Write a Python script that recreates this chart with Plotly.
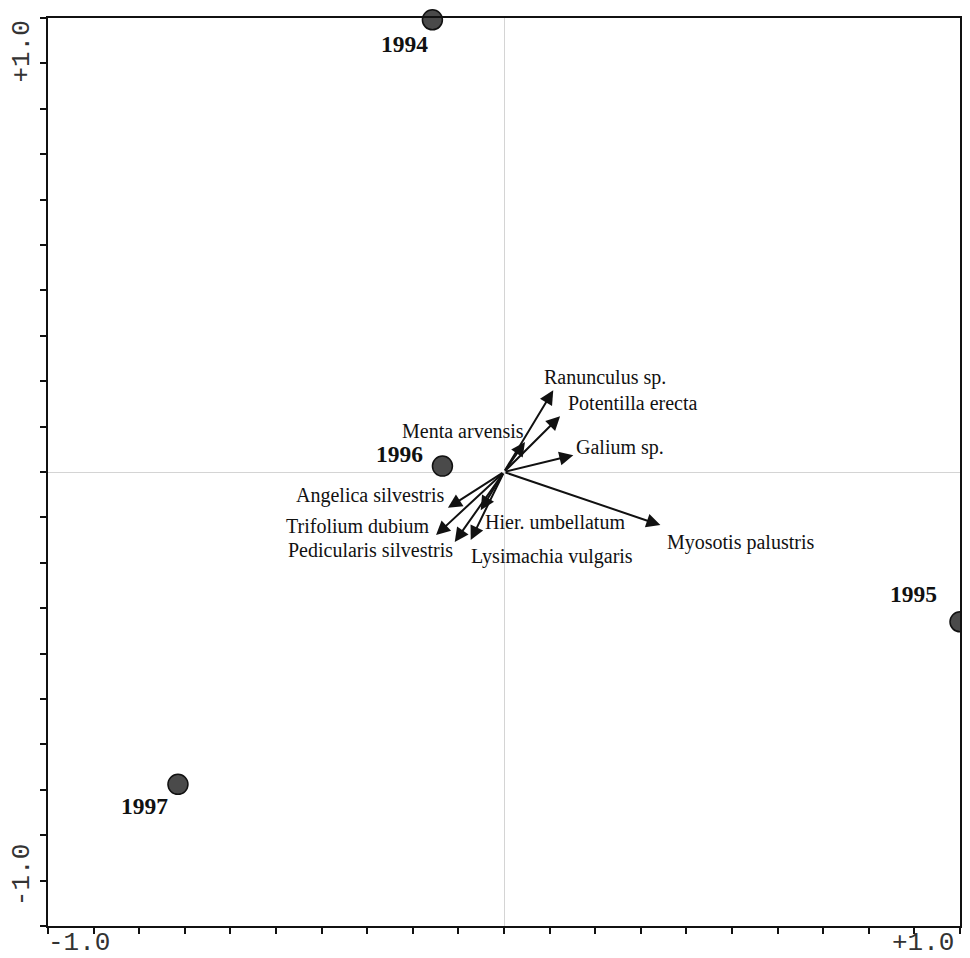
import plotly.graph_objects as go

# Sample (year) scores
years = ["1994", "1995", "1996", "1997"]
year_x = [-0.157, 1.0, -0.135, -0.715]
year_y = [0.996, -0.330, 0.013, -0.688]
year_label_x = [-0.218, 0.899, -0.229, -0.788]
year_label_y = [0.943, -0.268, 0.040, -0.736]

# Species arrows
species = ["Ranunculus sp.", "Potentilla erecta", "Menta arvensis", "Galium sp.",
           "Myosotis palustris", "Angelica silvestris", "Trifolium dubium",
           "Pedicularis silvestris", "Lysimachia vulgaris", "Hier. umbellatum"]
sp_x = [0.108, 0.123, 0.046, 0.152, 0.343, -0.123, -0.149, -0.108, -0.073, -0.051]
sp_y = [0.180, 0.123, 0.066, 0.037, -0.117, -0.079, -0.139, -0.154, -0.150, -0.084]
sp_label_x = [0.084, 0.135, 0.049, 0.154, 0.352, -0.126, -0.159, -0.108, -0.076, -0.045]
sp_label_y = [0.209, 0.152, 0.090, 0.053, -0.156, -0.051, -0.119, -0.171, -0.187, -0.110]
sp_anchor = ["left", "left", "right", "left", "left", "right", "right", "right", "left", "left"]

tick_labels = ["-1.0", "+1.0"]

fig = go.Figure()

fig.add_trace(go.Scatter(
    x=year_x, y=year_y, mode="markers",
    marker=dict(size=20, color="#4a4a4a", line=dict(color="#111", width=1.5)),
    cliponaxis=False, showlegend=False, hoverinfo="skip"))

annotations = []
for name, x, y in zip(species, sp_x, sp_y):
    annotations.append(dict(x=x, y=y, ax=0, ay=0, xref="x", yref="y", axref="x", ayref="y",
                            showarrow=True, arrowhead=2, arrowsize=1.4, arrowwidth=2,
                            arrowcolor="#111", text=""))
for name, x, y, anc in zip(species, sp_label_x, sp_label_y, sp_anchor):
    annotations.append(dict(x=x, y=y, xref="x", yref="y", text=name, showarrow=False,
                            xanchor=anc, yanchor="middle",
                            font=dict(family="Liberation Serif", size=20, color="#111")))
for name, x, y in zip(years, year_label_x, year_label_y):
    annotations.append(dict(x=x, y=y, xref="x", yref="y", text="<b>" + name + "</b>",
                            showarrow=False, xanchor="center", yanchor="middle",
                            font=dict(family="Liberation Serif", size=23.5, color="#111")))

mono = dict(family="Liberation Mono", size=26, color="#333")
annotations += [
    dict(x=-0.0285, y=0.963, xref="paper", yref="paper", text=tick_labels[1], textangle=-90,
         showarrow=False, font=mono, xanchor="center", yanchor="middle"),
    dict(x=-0.0285, y=0.056, xref="paper", yref="paper", text=tick_labels[0], textangle=-90,
         showarrow=False, font=mono, xanchor="center", yanchor="middle"),
    dict(x=0.034, y=-0.019, xref="paper", yref="paper", text=tick_labels[0],
         showarrow=False, font=mono, xanchor="center", yanchor="middle"),
    dict(x=0.959, y=-0.019, xref="paper", yref="paper", text=tick_labels[1],
         showarrow=False, font=mono, xanchor="center", yanchor="middle"),
]

axis_common = dict(range=[-1, 1], showgrid=False, zeroline=True, zerolinecolor="#d4d4d4",
                   zerolinewidth=1, showline=True, linecolor="#111", linewidth=2, mirror=True,
                   ticks="outside", dtick=0.1, tick0=0, ticklen=6, tickwidth=2, tickcolor="#111",
                   showticklabels=False, fixedrange=True)

fig.update_layout(
    width=962, height=950,
    margin=dict(l=40, r=9, t=8, b=32),
    plot_bgcolor="white", paper_bgcolor="white",
    xaxis=axis_common, yaxis=axis_common,
    annotations=annotations,
)

fig.write_html("out.html")
